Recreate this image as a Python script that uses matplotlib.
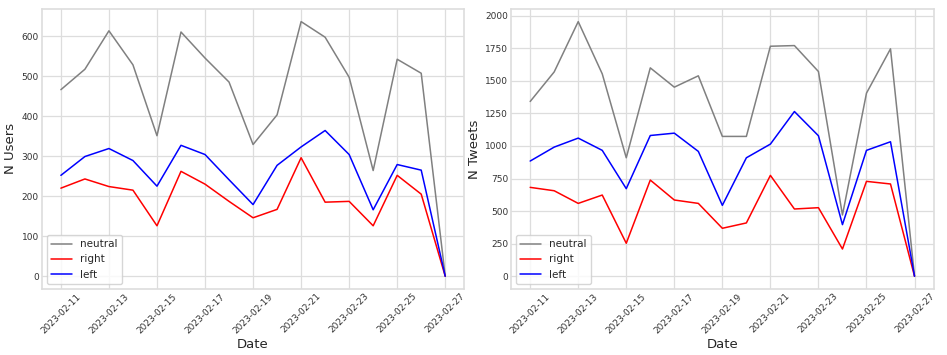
import matplotlib
matplotlib.use('Agg')
import matplotlib.pyplot as plt
import matplotlib.dates as mdates
import numpy as np
import pandas as pd

# daily counts per leaning
dates = pd.date_range('2023-02-11', '2023-02-27', freq='D')

users_neutral = [466, 517, 613, 528, 351, 610, 545, 485, 329, 403, 636, 597, 497, 264, 542, 507, 0]
users_right = [220, 243, 224, 215, 126, 262, 230, 187, 146, 167, 296, 185, 187, 126, 252, 205, 0]
users_left = [252, 299, 319, 289, 225, 327, 304, 241, 179, 277, 323, 364, 304, 166, 279, 265, 0]

tweets_neutral = [1341, 1568, 1954, 1553, 909, 1599, 1451, 1538, 1073, 1073, 1765, 1770, 1571, 470, 1405, 1745, 0]
tweets_right = [682, 656, 559, 623, 253, 738, 585, 559, 368, 409, 774, 516, 526, 209, 728, 708, 0]
tweets_left = [884, 991, 1060, 966, 672, 1080, 1098, 958, 544, 909, 1014, 1264, 1078, 396, 966, 1032, 0]

plt.style.use('seaborn-v0_8-whitegrid')
plt.rcParams['font.family'] = ['DejaVu Sans']

fig, axes = plt.subplots(1, 2, figsize=(9.47, 3.55), dpi=100)
fig.subplots_adjust(left=0.044, right=0.986, top=0.975, bottom=0.186, wspace=0.11)

panels = [(axes[0], users_neutral, users_right, users_left, 'N Users'),
          (axes[1], tweets_neutral, tweets_right, tweets_left, 'N Tweets')]

for ax, neu, rig, lef, ylab in panels:
    ax.plot(dates, neu, color='gray', lw=1.1, label='neutral')
    ax.plot(dates, rig, color='red', lw=1.1, label='right')
    ax.plot(dates, lef, color='blue', lw=1.1, label='left')
    ax.set_xticks(dates[::2])
    ax.xaxis.set_major_formatter(mdates.DateFormatter('%Y-%m-%d'))
    ax.tick_params(axis='both', labelsize=6.5, colors='#333333', pad=2)
    plt.setp(ax.get_xticklabels(), rotation=45, ha='center')
    ax.set_xlabel('Date', fontsize=9.5, labelpad=2)
    ax.set_ylabel(ylab, fontsize=9.5, labelpad=3)
    ax.grid(color='#dddddd', lw=0.9)
    leg = ax.legend(loc='lower left', frameon=True, fontsize=7.5)
    for s in ax.spines.values():
        s.set_edgecolor('#dddddd')
        s.set_linewidth(1.2)

fig.savefig('out.png', dpi=100)
